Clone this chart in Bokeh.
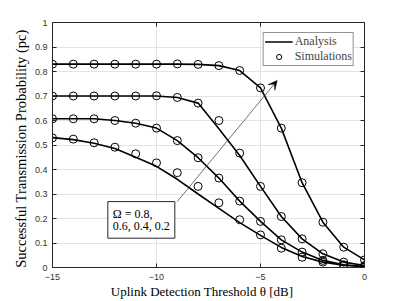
from bokeh.plotting import figure
from bokeh.models import (Range1d, LinearAxis, FixedTicker, Label, Arrow, VeeHead,
                          Legend, LegendItem, CustomLabelingPolicy)
from bokeh.embed import file_html
from bokeh.resources import INLINE

theta = [-15, -14, -13, -12, -11, -10, -9, -8, -7, -6, -5, -4, -3, -2, -1, 0]

# Simulations
sim_08 = [0.830, 0.830, 0.830, 0.830, 0.830, 0.830, 0.831, 0.829, 0.824, 0.804, 0.733, 0.569, 0.346, 0.185, 0.083, 0.031]
sim_06 = [0.700, 0.700, 0.700, 0.700, 0.700, 0.701, 0.694, 0.671, 0.600, 0.467, 0.331, 0.208, 0.117, 0.056, 0.022, 0.008]
sim_04 = [0.607, 0.607, 0.607, 0.600, 0.589, 0.569, 0.518, 0.448, 0.365, 0.271, 0.188, 0.113, 0.063, 0.029, 0.011, 0.004]
sim_02 = [0.529, 0.524, 0.509, 0.491, 0.464, 0.427, 0.387, 0.331, 0.264, 0.195, 0.133, 0.079, 0.042, 0.022, 0.008, 0.003]

# Analysis
ana_08 = [0.830, 0.830, 0.830, 0.830, 0.830, 0.830, 0.830, 0.829, 0.824, 0.804, 0.733, 0.569, 0.346, 0.185, 0.083, 0.031]
ana_06 = [0.700, 0.700, 0.700, 0.700, 0.700, 0.700, 0.694, 0.671, 0.566, 0.457, 0.331, 0.208, 0.117, 0.056, 0.022, 0.008]
ana_04 = [0.607, 0.607, 0.607, 0.600, 0.589, 0.569, 0.518, 0.448, 0.365, 0.271, 0.188, 0.113, 0.063, 0.029, 0.011, 0.004]
ana_02 = [0.530, 0.522, 0.507, 0.486, 0.450, 0.413, 0.360, 0.300, 0.241, 0.183, 0.131, 0.082, 0.045, 0.022, 0.009, 0.003]

x_ticks = [-15, -10, -5, 0]
y_ticks = [0, 0.1, 0.2, 0.3, 0.4, 0.5, 0.6, 0.7, 0.8, 0.9, 1]

x_label = "Uplink Detection Threshold θ [dB]"
y_label = "Successful Transmission Probability (pc)"
omega_text = "Ω = 0.8,\n0.6, 0.4, 0.2"

AX = "#262626"
GRID = "#e3e3e3"
SERIF = "Liberation Serif"
SANS = "Liberation Sans"
NBSP = "\u00a0"

p = figure(width=402, height=301, x_range=Range1d(-15, 0), y_range=Range1d(0, 1),
           output_backend="svg", toolbar_location=None,
           min_border_left=52, min_border_right=38, min_border_top=22, min_border_bottom=34)
p.outline_line_color = None
p.background_fill_color = "white"

no_labels_code = """
const out = indices;
for (const i of Array.from(indices)) { out.unset(i) }
return out
"""
p.add_layout(LinearAxis(major_label_policy=CustomLabelingPolicy(code=no_labels_code)), "above")
p.add_layout(LinearAxis(major_label_policy=CustomLabelingPolicy(code=no_labels_code)), "right")

for ax in p.xaxis:
    ax.ticker = FixedTicker(ticks=x_ticks)
for ax in p.yaxis:
    ax.ticker = FixedTicker(ticks=y_ticks)
p.yaxis[0].major_label_overrides = {t: f"{t:g}" for t in y_ticks}

for ax in list(p.xaxis) + list(p.yaxis):
    ax.axis_line_color = AX
    ax.axis_line_width = 1
    ax.major_tick_line_color = AX
    ax.major_tick_in = 4
    ax.major_tick_out = 0
    ax.minor_tick_line_color = None
    ax.major_label_text_font = SANS
    ax.major_label_text_font_size = "9px"
    ax.major_label_text_color = "#333333"

bx = p.below[0]
bx.major_label_standoff = 6
bx.axis_label = x_label + NBSP * 4
bx.axis_label_text_font = SERIF
bx.axis_label_text_font_style = "normal"
bx.axis_label_text_font_size = "13px"
bx.axis_label_text_color = "black"
bx.axis_label_standoff = 1

ly = p.left[0]
ly.major_label_standoff = 5
ly.axis_label = y_label + NBSP * 2
ly.axis_label_text_font = SERIF
ly.axis_label_text_font_style = "normal"
ly.axis_label_text_font_size = "14.5px"
ly.axis_label_text_color = "black"
ly.axis_label_standoff = 3

p.xgrid.ticker = FixedTicker(ticks=x_ticks)
p.ygrid.ticker = FixedTicker(ticks=y_ticks)
p.xgrid.grid_line_color = GRID
p.ygrid.grid_line_color = GRID

line_r = None
circ_r = None
for a, s in ((ana_08, sim_08), (ana_06, sim_06), (ana_04, sim_04), (ana_02, sim_02)):
    lr = p.line(theta, a, line_color="black", line_width=1.6)
    cr = p.scatter(theta, s, marker="circle", size=8, fill_color=None,
                   line_color="black", line_width=1)
    if line_r is None:
        line_r, circ_r = lr, cr

legend = Legend(items=[LegendItem(label="Analysis", renderers=[line_r]),
                       LegendItem(label="Simulations", renderers=[circ_r])],
                location="top_right")
legend.border_line_color = AX
legend.border_line_width = 1
legend.background_fill_color = "white"
legend.background_fill_alpha = 1
legend.label_text_font = SERIF
legend.label_text_font_size = "12px"
legend.label_text_line_height = 0.8
legend.glyph_width = 28
legend.glyph_height = 13
legend.label_height = 13
legend.label_standoff = 2
legend.padding = 1
legend.spacing = 0
legend.margin = 10
p.add_layout(legend)

# annotation arrow and box
p.add_layout(Arrow(x_start=-9.005, y_start=0.269, x_end=-4.2, y_end=0.763,
                   line_color="#333333", line_width=0.7,
                   end=VeeHead(size=9, fill_color="black", line_color="black", line_width=0.5)))

p.add_layout(Label(x=-12.34, y=0.269, text=omega_text,
                   text_font=SERIF, text_font_size="12px", text_color="black",
                   text_align="left", text_baseline="top", text_line_height=0.9,
                   padding=5, border_line_color=AX, border_line_width=1,
                   background_fill_color="white"))

open("out.html", "w").write(file_html(p, INLINE))
